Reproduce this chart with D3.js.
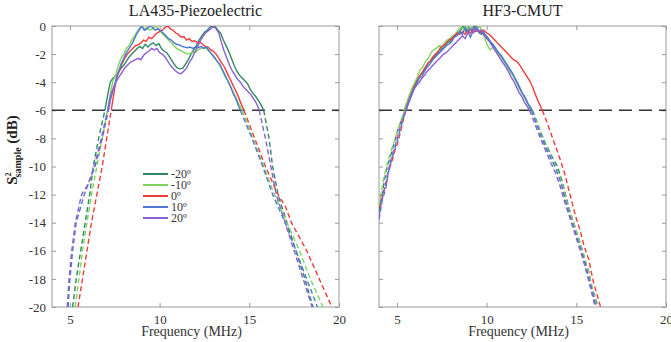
<!DOCTYPE html>
<html>
<head>
<meta charset="utf-8">
<script src="https://cdn.jsdelivr.net/npm/d3@7"></script>
<style>
  body { margin: 0; background: #fff; }
  svg { display: block; }
  svg text { font-family: "Liberation Serif", "DejaVu Serif", serif; }
</style>
</head>
<body>
<div id="chart"></div>
<script>
// legend entries
var angles = ['-20º', '-10º', '0º', '10º', '20º'];
var colors = ['#2e8a62', '#80d45c', '#f23b3b', '#4f78d8', '#8a5fd2'];

// ticks
var xTicks = [5, 10, 15, 20];
var yTicks = [0, -2, -4, -6, -8, -10, -12, -14, -16, -18, -20];

// -6 dB bandwidth line; lines are dashed below it
var cutoff = -6;

// LA435-Piezoelectric, [frequency MHz, dB]
var la_m20 = [[5.15,-20],[5.35,-18],[5.6,-16],[5.85,-14],[6.1,-12],[6.3,-10],[6.6,-8],
  [6.95,-6],[7.05,-5.3],[7.15,-4.6],[7.25,-4.0],[7.4,-3.7],[7.55,-3.6],[7.7,-3.3],[7.85,-3.0],[8.0,-2.8],[8.15,-2.5],[8.3,-2.2],[8.45,-2.0],[8.6,-1.8],[8.75,-1.6],[8.9,-1.45],[9.05,-1.6],[9.2,-1.3],[9.35,-1.5],[9.5,-1.3],[9.65,-1.2],[9.8,-1.4],[9.95,-1.25],[10.1,-1.6],[10.25,-1.8],[10.4,-1.9],[10.55,-2.2],[10.7,-2.5],[10.85,-2.8],[11.0,-3.0],[11.15,-3.05],[11.3,-3.0],[11.45,-2.7],[11.6,-2.4],[11.75,-2.0],[11.9,-1.7],[12.05,-1.4],[12.2,-1.0],[12.35,-0.7],[12.5,-0.45],[12.65,-0.3],[12.8,-0.1],[12.95,0],[13.1,-0.05],[13.25,-0.3],[13.4,-0.5],[13.55,-1.0],[13.7,-1.4],[13.85,-1.8],[14.0,-2.3],[14.15,-2.8],[14.3,-3.2],[14.45,-3.5],[14.6,-3.7],[14.75,-3.9],[14.9,-4.1],[15.05,-4.5],[15.2,-4.8],[15.35,-5.0],[15.5,-5.3],[15.65,-5.6],[15.8,-6],
  [16.1,-8],[16.3,-10],[16.6,-12],[16.9,-13.2],[17.1,-14],[17.6,-16],[18.1,-18],[18.55,-20]];
var la_m10 = [[5.3,-20],[5.5,-18],[5.7,-16],[5.95,-14],[6.2,-12],[6.5,-10],[6.8,-8],
  [7.1,-6],[7.2,-5.2],[7.3,-4.5],[7.4,-3.9],[7.55,-3.5],[7.7,-2.8],[7.85,-2.3],[8.0,-2.0],[8.15,-1.6],[8.3,-1.4],[8.45,-1.0],[8.6,-0.7],[8.75,-0.4],[8.9,-0.1],[9.0,0],[9.15,-0.2],[9.3,-0.1],[9.45,-0.3],[9.6,-0.2],[9.75,0],[9.9,-0.15],[10.05,-0.4],[10.2,-0.6],[10.35,-0.8],[10.5,-1.0],[10.65,-1.2],[10.8,-1.4],[10.95,-1.6],[11.1,-1.7],[11.25,-1.8],[11.4,-1.9],[11.55,-2.0],[11.7,-1.95],[11.85,-1.9],[12.0,-1.85],[12.15,-1.7],[12.3,-1.6],[12.45,-1.5],[12.6,-1.6],[12.75,-1.8],[12.9,-2.0],[13.05,-2.3],[13.2,-2.5],[13.35,-2.8],[13.5,-3.2],[13.65,-3.6],[13.8,-3.9],[13.95,-4.3],[14.1,-4.7],[14.25,-5.1],[14.4,-5.5],[14.6,-6],
  [15.2,-8],[15.8,-10],[16.4,-12],[17.1,-14],[17.8,-16],[18.4,-18],[18.9,-19.4],[19.1,-20]];
var la_0 = [[5.45,-20],[5.7,-18],[5.95,-16],[6.2,-14],[6.5,-12],[6.8,-10],[7.05,-8],
  [7.3,-6],[7.4,-5.2],[7.5,-4.4],[7.6,-3.7],[7.75,-3.2],[7.9,-2.7],[8.05,-2.3],[8.2,-2.0],[8.35,-1.8],[8.5,-1.6],[8.65,-1.4],[8.8,-1.35],[8.95,-1.2],[9.1,-1.0],[9.25,-1.1],[9.4,-0.8],[9.55,-0.9],[9.7,-0.7],[9.85,-0.5],[10.0,-0.4],[10.15,-0.3],[10.3,-0.1],[10.45,0],[10.6,-0.2],[10.75,-0.3],[10.9,-0.5],[11.05,-0.6],[11.2,-0.8],[11.35,-0.75],[11.5,-1.0],[11.65,-0.9],[11.8,-1.1],[11.95,-1.05],[12.1,-1.2],[12.25,-1.15],[12.4,-1.3],[12.55,-1.45],[12.7,-1.5],[12.85,-1.7],[13.0,-1.8],[13.15,-2.0],[13.3,-2.3],[13.45,-2.6],[13.6,-2.9],[13.75,-3.3],[13.9,-3.7],[14.05,-4.1],[14.2,-4.5],[14.35,-4.9],[14.5,-5.4],[14.7,-6],
  [15.3,-8],[15.9,-10],[16.6,-12],[17.0,-12.8],[17.35,-14],[18.2,-16],[18.9,-18],[19.6,-20]];
var la_10 = [[4.9,-20],[5.0,-18],[5.15,-16],[5.35,-14],[5.8,-12],[6.4,-10],[6.8,-8],
  [7.15,-6],[7.25,-5.3],[7.4,-4.6],[7.55,-3.9],[7.7,-3.3],[7.85,-2.7],[8.0,-2.3],[8.15,-1.9],[8.3,-1.6],[8.45,-1.3],[8.6,-0.9],[8.75,-0.5],[8.9,-0.2],[9.0,0],[9.15,-0.3],[9.3,-0.2],[9.45,0],[9.6,-0.1],[9.75,-0.3],[9.9,-0.2],[10.05,-0.35],[10.2,-0.5],[10.35,-0.7],[10.5,-0.9],[10.65,-1.0],[10.8,-1.2],[10.95,-1.3],[11.1,-1.35],[11.25,-1.45],[11.4,-1.5],[11.55,-1.55],[11.7,-1.5],[11.85,-1.6],[12.0,-1.5],[12.15,-1.55],[12.3,-1.45],[12.45,-1.6],[12.6,-1.5],[12.75,-1.75],[12.9,-2.0],[13.05,-2.2],[13.2,-2.5],[13.35,-2.7],[13.5,-3.1],[13.65,-3.5],[13.8,-3.9],[13.95,-4.3],[14.1,-4.8],[14.25,-5.2],[14.4,-5.7],[14.5,-6],
  [15.15,-8],[15.75,-10],[16.3,-12],[17.0,-14],[17.6,-16],[18.2,-18],[18.8,-20]];
var la_20 = [[4.85,-20],[4.95,-18],[5.1,-16],[5.3,-14],[5.65,-12],[6.0,-11.3],[6.35,-10],[6.75,-8],
  [7.1,-6],[7.2,-5.4],[7.3,-4.8],[7.45,-4.3],[7.6,-3.9],[7.75,-3.6],[7.9,-3.3],[8.05,-3.0],[8.2,-2.8],[8.35,-2.6],[8.5,-2.5],[8.65,-2.4],[8.8,-2.3],[8.95,-2.4],[9.1,-2.1],[9.25,-1.9],[9.4,-1.8],[9.55,-1.6],[9.7,-1.7],[9.85,-1.6],[10.0,-1.9],[10.15,-2.0],[10.3,-2.2],[10.45,-2.5],[10.6,-2.8],[10.75,-3.0],[10.9,-3.2],[11.05,-3.35],[11.2,-3.4],[11.35,-3.2],[11.5,-3.0],[11.65,-2.6],[11.8,-2.3],[11.95,-1.9],[12.1,-1.5],[12.25,-1.1],[12.4,-0.8],[12.55,-0.5],[12.7,-0.35],[12.85,-0.2],[13.0,0],[13.15,-0.2],[13.3,-0.5],[13.45,-1.2],[13.6,-1.8],[13.75,-2.3],[13.9,-2.8],[14.05,-3.2],[14.2,-3.5],[14.35,-3.8],[14.5,-4.0],[14.65,-4.3],[14.8,-4.5],[14.95,-4.7],[15.1,-4.9],[15.25,-5.2],[15.4,-5.5],[15.55,-6],
  [15.9,-8],[16.2,-10],[16.5,-12],[17.0,-14],[17.5,-16],[18.0,-18],[18.5,-20]];

// HF3-CMUT, [frequency MHz, dB]
var hf_m20 = [[4.0,-13.2],[4.1,-12.4],[4.2,-11.8],[4.3,-11.0],[4.4,-10.3],[4.5,-9.9],[4.6,-9.4],[4.7,-9.0],[4.8,-8.5],[4.9,-8.1],[5.0,-7.6],[5.1,-7.2],[5.25,-6.7],[5.4,-6.2],[5.45,-6],[5.55,-5.6],[5.7,-5.1],[5.85,-4.6],[6.0,-4.1],[6.15,-3.8],[6.3,-3.5],[6.45,-3.3],[6.6,-3.0],[6.75,-2.6],[6.9,-2.5],[7.05,-2.2],[7.2,-2.0],[7.35,-1.9],[7.5,-1.6],[7.65,-1.5],[7.8,-1.2],[7.95,-1.1],[8.1,-0.9],[8.25,-0.7],[8.4,-0.5],[8.55,-0.3],[8.7,0],[8.85,-0.4],[9.0,-0.1],[9.15,-0.3],[9.3,0],[9.45,-0.2],[9.6,-0.5],[9.75,-0.3],[9.9,-0.6],[10.05,-0.8],[10.2,-1.1],[10.35,-1.3],[10.5,-1.6],[10.65,-1.9],[10.8,-2.1],[10.95,-2.4],[11.1,-2.7],[11.25,-3.0],[11.4,-3.3],[11.55,-3.7],[11.7,-4.0],[11.85,-4.4],[12.0,-4.8],[12.15,-5.1],[12.3,-5.5],[12.45,-5.8],[12.55,-6],[12.8,-6.8],[13.0,-7.5],[13.3,-8.4],[13.6,-9.2],[13.95,-10.0],[14.2,-11.0],[14.4,-12.0],[14.6,-13.0],[14.85,-14.0],[15.1,-15.0],[15.35,-16.0],[15.5,-16.8],[15.7,-17.5],[15.85,-18.5],[16.05,-19.3],[16.2,-20]];
var hf_m10 = [[4.0,-12.8],[4.1,-12.0],[4.2,-11.3],[4.3,-10.6],[4.4,-10.2],[4.5,-9.6],[4.6,-9.2],[4.75,-8.6],[4.9,-8.0],[5.05,-7.4],[5.2,-6.8],[5.35,-6.3],[5.4,-6],[5.55,-5.4],[5.7,-4.9],[5.85,-4.4],[6.0,-4.0],[6.15,-3.6],[6.3,-3.1],[6.45,-2.9],[6.6,-2.5],[6.75,-2.3],[6.9,-1.9],[7.05,-1.7],[7.2,-1.6],[7.35,-1.4],[7.5,-1.5],[7.65,-1.2],[7.8,-1.0],[7.95,-0.9],[8.1,-0.7],[8.25,-0.6],[8.4,-0.3],[8.55,-0.1],[8.7,-0.2],[8.85,0],[9.0,-0.3],[9.15,-0.1],[9.3,-0.4],[9.45,-0.2],[9.6,0],[9.75,-0.4],[9.9,-0.9],[10.05,-1.4],[10.2,-1.7],[10.35,-1.5],[10.5,-1.7],[10.65,-2.0],[10.8,-2.2],[10.95,-2.5],[11.1,-2.8],[11.25,-3.1],[11.4,-3.4],[11.55,-3.7],[11.7,-4.1],[11.85,-4.5],[12.0,-4.8],[12.15,-5.2],[12.3,-5.5],[12.45,-5.9],[12.5,-6],[12.8,-6.9],[13.1,-7.9],[13.4,-8.8],[13.7,-9.6],[14.0,-10.4],[14.25,-11.4],[14.45,-12.4],[14.7,-13.4],[14.95,-14.4],[15.2,-15.4],[15.45,-16.4],[15.65,-17.4],[15.85,-18.4],[16.0,-19.2],[16.15,-20]];
var hf_0 = [[4.0,-12.9],[4.1,-12.7],[4.2,-12.0],[4.3,-11.6],[4.4,-11.3],[4.5,-10.5],[4.6,-10.1],[4.75,-9.5],[4.9,-8.8],[5.05,-8.3],[5.2,-7.5],[5.35,-6.7],[5.5,-6],[5.65,-5.4],[5.8,-4.9],[5.95,-4.4],[6.1,-4.0],[6.25,-3.6],[6.4,-3.3],[6.55,-3.0],[6.7,-2.7],[6.85,-2.5],[7.0,-2.2],[7.15,-2.0],[7.3,-1.8],[7.45,-1.5],[7.6,-1.4],[7.75,-1.2],[7.9,-1.0],[8.05,-0.9],[8.2,-0.7],[8.35,-0.5],[8.5,-0.6],[8.65,-0.4],[8.8,-0.6],[8.95,-0.3],[9.1,-0.5],[9.25,-0.2],[9.4,-0.4],[9.55,-0.3],[9.7,-0.5],[9.85,-0.3],[10.0,-0.5],[10.15,-0.6],[10.3,-0.8],[10.45,-1.0],[10.6,-1.2],[10.75,-1.4],[10.9,-1.6],[11.05,-1.8],[11.2,-2.0],[11.35,-2.2],[11.5,-2.4],[11.65,-2.5],[11.8,-2.7],[11.95,-3.0],[12.1,-3.3],[12.25,-3.6],[12.4,-3.9],[12.55,-4.3],[12.7,-4.8],[12.85,-5.3],[13.0,-5.7],[13.1,-6],[13.35,-6.8],[13.6,-7.7],[13.85,-8.6],[14.1,-9.5],[14.35,-10.5],[14.55,-11.5],[14.75,-12.5],[14.95,-13.5],[15.2,-14.5],[15.4,-15.5],[15.6,-16.3],[15.7,-16.6],[15.8,-17.3],[15.95,-18.2],[16.15,-19.1],[16.35,-20]];
var hf_10 = [[4.0,-13.8],[4.1,-13.0],[4.2,-12.3],[4.3,-11.9],[4.4,-11.4],[4.5,-10.6],[4.6,-10.0],[4.75,-9.3],[4.9,-8.7],[5.05,-8.0],[5.2,-7.3],[5.35,-6.6],[5.5,-6],[5.65,-5.4],[5.8,-4.9],[5.95,-4.5],[6.1,-4.1],[6.25,-3.7],[6.4,-3.6],[6.55,-3.2],[6.7,-2.9],[6.85,-2.7],[7.0,-2.4],[7.15,-2.2],[7.3,-2.0],[7.45,-1.8],[7.6,-1.6],[7.75,-1.4],[7.9,-1.3],[8.05,-1.1],[8.2,-0.8],[8.35,-0.7],[8.5,-0.4],[8.65,-0.6],[8.8,-0.1],[8.95,-0.4],[9.1,-0.8],[9.25,-0.3],[9.4,0],[9.55,-0.3],[9.7,-0.6],[9.85,-0.5],[10.0,-0.8],[10.15,-1.0],[10.3,-1.3],[10.45,-1.5],[10.6,-1.8],[10.75,-2.0],[10.9,-2.3],[11.05,-2.6],[11.2,-2.9],[11.35,-3.2],[11.5,-3.5],[11.65,-3.9],[11.8,-4.3],[11.95,-4.7],[12.1,-5.0],[12.25,-5.4],[12.4,-5.8],[12.5,-6],[12.75,-6.9],[13.05,-7.9],[13.35,-8.8],[13.65,-9.6],[13.9,-10.3],[14.15,-11.2],[14.35,-12.2],[14.6,-13.3],[14.85,-14.3],[15.1,-15.3],[15.35,-16.3],[15.55,-17.2],[15.75,-18.2],[15.95,-19.2],[16.1,-20]];
var hf_20 = [[4.0,-13.6],[4.1,-12.8],[4.2,-12.2],[4.3,-11.6],[4.4,-11.0],[4.5,-10.4],[4.6,-9.9],[4.75,-9.1],[4.9,-8.5],[5.05,-7.8],[5.2,-7.1],[5.35,-6.5],[5.5,-6],[5.65,-5.5],[5.8,-5.0],[5.95,-4.5],[6.1,-4.2],[6.25,-4.0],[6.4,-3.7],[6.55,-3.5],[6.7,-3.2],[6.85,-3.0],[7.0,-2.8],[7.15,-2.6],[7.3,-2.4],[7.45,-2.2],[7.6,-2.0],[7.75,-1.9],[7.9,-1.7],[8.05,-1.5],[8.2,-1.3],[8.35,-1.1],[8.5,-0.9],[8.65,-0.7],[8.8,-0.9],[8.95,-0.5],[9.1,-0.2],[9.25,-0.5],[9.4,-0.2],[9.55,-0.4],[9.7,-0.3],[9.85,-0.6],[10.0,-0.9],[10.15,-1.1],[10.3,-1.4],[10.45,-1.7],[10.6,-2.0],[10.75,-2.3],[10.9,-2.6],[11.05,-2.9],[11.2,-3.2],[11.35,-3.6],[11.5,-3.9],[11.65,-4.3],[11.8,-4.7],[11.95,-5.0],[12.1,-5.4],[12.25,-5.7],[12.4,-6],[12.7,-7.0],[13.0,-8.0],[13.3,-8.9],[13.6,-9.8],[13.85,-10.5],[14.1,-11.4],[14.3,-12.3],[14.55,-13.3],[14.8,-14.3],[15.05,-15.3],[15.3,-16.3],[15.5,-17.2],[15.7,-18.2],[15.9,-19.2],[16.05,-20]];

var W = 671, H = 342;
var plotTop = 26, plotH = 281, plotW = 287;

var svg = d3.select('#chart')
    .append('svg')
    .attr('width', W)
    .attr('height', H);

// y-axis title
var ylab = svg.append('text')
    .attr('transform', 'translate(17,150) rotate(-90)')
    .attr('text-anchor', 'middle')
    .attr('font-size', 15)
    .attr('font-weight', 'bold')
    .attr('fill', '#222');
ylab.append('tspan').text('S');
ylab.append('tspan').attr('font-size', 8).attr('dy', -6).text('2');
ylab.append('tspan').attr('font-size', 10).attr('dx', -5).attr('dy', 10).text('sample');
ylab.append('tspan').attr('dy', -4).text(' (dB)');

function drawPanel(left, title, series, showYLabels, showLegend, clipId) {
  var x = d3.scaleLinear().domain([4, 20]).range([0, plotW]);
  var y = d3.scaleLinear().domain([-20, 0]).range([plotH, 0]);

  var g = svg.append('g').attr('transform', 'translate(' + left + ',' + plotTop + ')');

  g.append('clipPath').attr('id', clipId)
    .append('rect').attr('width', plotW).attr('height', plotH);

  // frame
  g.append('rect')
    .attr('width', plotW).attr('height', plotH)
    .attr('fill', 'none').attr('stroke', '#9a9a9a');

  // axes, ticks inside like matlab
  g.append('g').attr('transform', 'translate(0,' + plotH + ')')
    .call(d3.axisBottom(x).tickValues(xTicks).tickSizeInner(-4).tickSizeOuter(0).tickPadding(8));
  g.append('g')
    .call(d3.axisTop(x).tickValues(xTicks).tickSizeInner(-4).tickSizeOuter(0).tickFormat(''));
  g.append('g')
    .call(d3.axisLeft(y).tickValues(yTicks).tickSizeInner(-4).tickSizeOuter(0).tickPadding(6)
      .tickFormat(showYLabels ? function(d){ return String(d); } : ''));
  g.append('g').attr('transform', 'translate(' + plotW + ',0)')
    .call(d3.axisRight(y).tickValues(yTicks).tickSizeInner(-4).tickSizeOuter(0).tickFormat(''));

  g.selectAll('.domain').remove();
  g.selectAll('.tick line').attr('stroke', '#9a9a9a');
  g.selectAll('.tick text')
    .style('font-family', '"Liberation Serif", serif')
    .style('font-size', '13px')
    .attr('fill', '#333');

  // title and x label
  g.append('text')
    .attr('x', plotW / 2).attr('y', -10)
    .attr('text-anchor', 'middle')
    .attr('font-size', 16).attr('fill', '#222')
    .text(title);
  g.append('text')
    .attr('x', plotW / 2 - 4).attr('y', plotH + 29)
    .attr('text-anchor', 'middle')
    .attr('font-size', 14).attr('fill', '#333')
    .text('Frequency (MHz)');

  // -6 dB reference
  g.append('line')
    .attr('x1', 0).attr('x2', plotW)
    .attr('y1', y(cutoff)).attr('y2', y(cutoff))
    .attr('stroke', '#333').attr('stroke-width', 1.6)
    .attr('stroke-dasharray', '13,7');

  var solid = d3.line()
    .defined(function(d){ return d[1] >= cutoff; })
    .x(function(d){ return x(d[0]); })
    .y(function(d){ return y(d[1]); });
  var dashed = d3.line()
    .defined(function(d){ return d[1] <= cutoff; })
    .x(function(d){ return x(d[0]); })
    .y(function(d){ return y(d[1]); });

  var lines = g.append('g').attr('clip-path', 'url(#' + clipId + ')');
  series.forEach(function(s, i){
    lines.append('path').attr('d', dashed(s))
      .attr('fill', 'none').attr('stroke', colors[i])
      .attr('stroke-width', 1.4).attr('stroke-dasharray', '5,3');
    lines.append('path').attr('d', solid(s))
      .attr('fill', 'none').attr('stroke', colors[i])
      .attr('stroke-width', 1.4);
  });

  if (showLegend) {
    var lg = g.append('g').attr('transform', 'translate(' + (143 - left) + ',' + (174 - plotTop) + ')');
    angles.forEach(function(a, i){
      lg.append('line')
        .attr('x1', 0).attr('x2', 25)
        .attr('y1', i * 11).attr('y2', i * 11)
        .attr('stroke', colors[i]).attr('stroke-width', 2);
      lg.append('text')
        .attr('x', 28).attr('y', i * 11 + 4)
        .attr('font-size', 12).attr('fill', '#333')
        .text(a);
    });
  }
}

drawPanel(52, 'LA435-Piezoelectric', [la_m20, la_m10, la_0, la_10, la_20], true, true, 'clipLA');
drawPanel(379, 'HF3-CMUT', [hf_m20, hf_m10, hf_0, hf_10, hf_20], false, false, 'clipHF');
</script>
</body>
</html>
